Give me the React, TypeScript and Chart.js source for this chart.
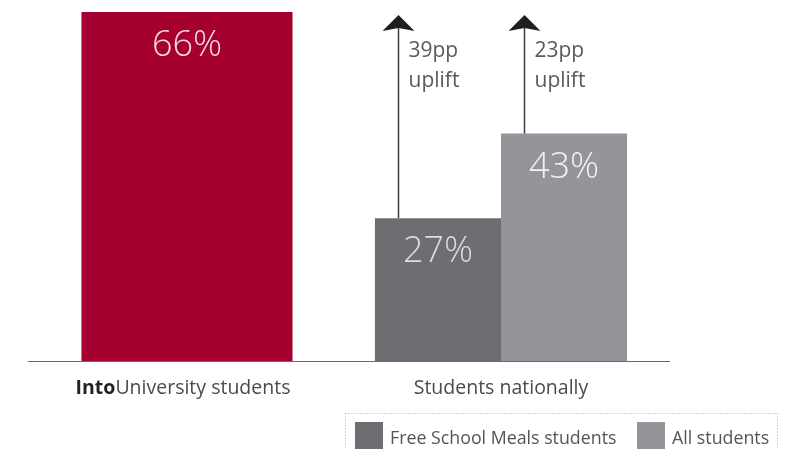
import { useEffect, useRef } from "react";
import { Chart, registerables } from "chart.js";

Chart.register(...registerables);

const categories = ["IntoUniversity students", "Students nationally"];
const intoUniversityValues: (number | null)[] = [66, null];
const freeSchoolMealsValues: (number | null)[] = [null, 27];
const allStudentsValues: (number | null)[] = [null, 43];
const seriesNames = ["IntoUniversity students", "Free School Meals students", "All students"];
const legendSeries = [1, 2];

const RED = "#a5002f";
const DARK = "#6d6e71";
const LIGHT = "#939598";
const valueTextColors = ["#f3d9e0", "#dcdcdc", "#f2f2f2"];
const FONT = '"Open Sans", "DejaVu Sans", sans-serif';

const overlayPlugin = {
  id: "overlay",
  afterDatasetsDraw(chart: any) {
    const ctx: CanvasRenderingContext2D = chart.ctx;
    const yScale = chart.scales.y;
    const xScale = chart.scales.x;
    const ref = intoUniversityValues[0] as number;
    ctx.save();

    // value labels
    chart.data.datasets.forEach((ds: any, di: number) => {
      const meta = chart.getDatasetMeta(di);
      meta.data.forEach((bar: any, i: number) => {
        const v = ds.data[i];
        if (v === null || v === undefined) return;
        ctx.font = `300 36px ${FONT}`;
        ctx.fillStyle = valueTextColors[di];
        ctx.textAlign = "center";
        ctx.textBaseline = "alphabetic";
        ctx.fillText(`${v}%`, bar.x, bar.y + 44);
      });
    });

    // uplift arrows
    [1, 2].forEach((di) => {
      const ds = chart.data.datasets[di];
      const meta = chart.getDatasetMeta(di);
      meta.data.forEach((bar: any, i: number) => {
        const v = ds.data[i];
        if (v === null || v === undefined) return;
        const x = Math.round(bar.x - bar.width / 2 + 23) + 0.5;
        const tipY = yScale.getPixelForValue(ref) + 3;
        ctx.strokeStyle = "#3c3c3c";
        ctx.lineWidth = 1.5;
        ctx.beginPath();
        ctx.moveTo(x, bar.y);
        ctx.lineTo(x, tipY + 12);
        ctx.stroke();
        ctx.fillStyle = "#1e1e1e";
        ctx.beginPath();
        ctx.moveTo(x, tipY);
        ctx.lineTo(x + 16, tipY + 16);
        ctx.lineTo(x, tipY + 13);
        ctx.lineTo(x - 16, tipY + 16);
        ctx.closePath();
        ctx.fill();
        ctx.font = `400 21px ${FONT}`;
        ctx.fillStyle = "#5a5a5a";
        ctx.textAlign = "left";
        ctx.fillText(`${ref - v}pp`, x + 10, 57);
        ctx.fillText("uplift", x + 10, 87);
      });
    });

    // baseline
    const base = yScale.getPixelForValue(0);
    ctx.strokeStyle = "#6a6a6a";
    ctx.lineWidth = 1.2;
    ctx.beginPath();
    ctx.moveTo(28, Math.round(base) + 0.5);
    ctx.lineTo(670, Math.round(base) + 0.5);
    ctx.stroke();

    // category labels
    ctx.textBaseline = "alphabetic";
    ctx.textAlign = "left";
    const catSize = 19.5;
    categories.forEach((c, i) => {
      const cx = xScale.getPixelForValue(i);
      const ly = 394;
      if (c.startsWith("Into")) {
        const boldPart = "Into";
        const rest = c.slice(4);
        ctx.font = `700 ${catSize}px ${FONT}`;
        const w1 = ctx.measureText(boldPart).width;
        ctx.font = `400 ${catSize}px ${FONT}`;
        const w2 = ctx.measureText(rest).width;
        const start = cx - 4 - (w1 + w2) / 2;
        ctx.fillStyle = "#222222";
        ctx.font = `700 ${catSize}px ${FONT}`;
        ctx.fillText(boldPart, start, ly);
        ctx.fillStyle = "#4a4a4a";
        ctx.font = `400 ${catSize}px ${FONT}`;
        ctx.fillText(rest, start + w1, ly);
      } else {
        ctx.font = `400 ${catSize}px ${FONT}`;
        ctx.fillStyle = "#4a4a4a";
        const w = ctx.measureText(c).width;
        ctx.fillText(c, cx - w / 2, ly);
      }
    });

    // legend
    ctx.setLineDash([1, 2]);
    ctx.strokeStyle = "#aaaaaa";
    ctx.lineWidth = 1;
    ctx.strokeRect(345.5, 413.5, 432, 50);
    ctx.setLineDash([]);
    const swatchX = [355, 637];
    legendSeries.forEach((di, k) => {
      const ds = chart.data.datasets[di];
      ctx.fillStyle = ds.backgroundColor;
      ctx.fillRect(swatchX[k], 422, 28, 30);
      ctx.font = `400 17.8px ${FONT}`;
      ctx.fillStyle = "#555555";
      ctx.textBaseline = "alphabetic";
      ctx.fillText(seriesNames[di], swatchX[k] + 35, 444);
    });

    ctx.restore();
  },
};

export default function App() {
  const canvasRef = useRef<HTMLCanvasElement | null>(null);

  useEffect(() => {
    document.body.style.margin = "0";
    const canvas = canvasRef.current;
    if (!canvas) return;
    const chart = new Chart(canvas, {
      type: "bar",
      data: {
        labels: categories,
        datasets: [
          {
            label: seriesNames[0],
            data: intoUniversityValues,
            backgroundColor: RED,
            barPercentage: 0.837,
            categoryPercentage: 0.803,
            skipNull: true,
          } as any,
          {
            label: seriesNames[1],
            data: freeSchoolMealsValues,
            backgroundColor: DARK,
            barPercentage: 1,
            categoryPercentage: 0.803,
            skipNull: true,
          } as any,
          {
            label: seriesNames[2],
            data: allStudentsValues,
            backgroundColor: LIGHT,
            barPercentage: 1,
            categoryPercentage: 0.803,
            skipNull: true,
          } as any,
        ],
      },
      options: {
        animation: false,
        responsive: false,
        maintainAspectRatio: false,
        layout: { padding: { left: 30, right: 130, top: 12, bottom: 88 } },
        plugins: {
          legend: { display: false },
          tooltip: { enabled: false },
        },
        scales: {
          x: { display: false },
          y: { display: false, min: 0, max: 66 },
        },
      },
      plugins: [overlayPlugin],
    });
    return () => chart.destroy();
  }, []);

  return (
    <div style={{ width: 788, height: 449, background: "#ffffff" }}>
      <canvas ref={canvasRef} width={788} height={449} style={{ display: "block" }} />
    </div>
  );
}
